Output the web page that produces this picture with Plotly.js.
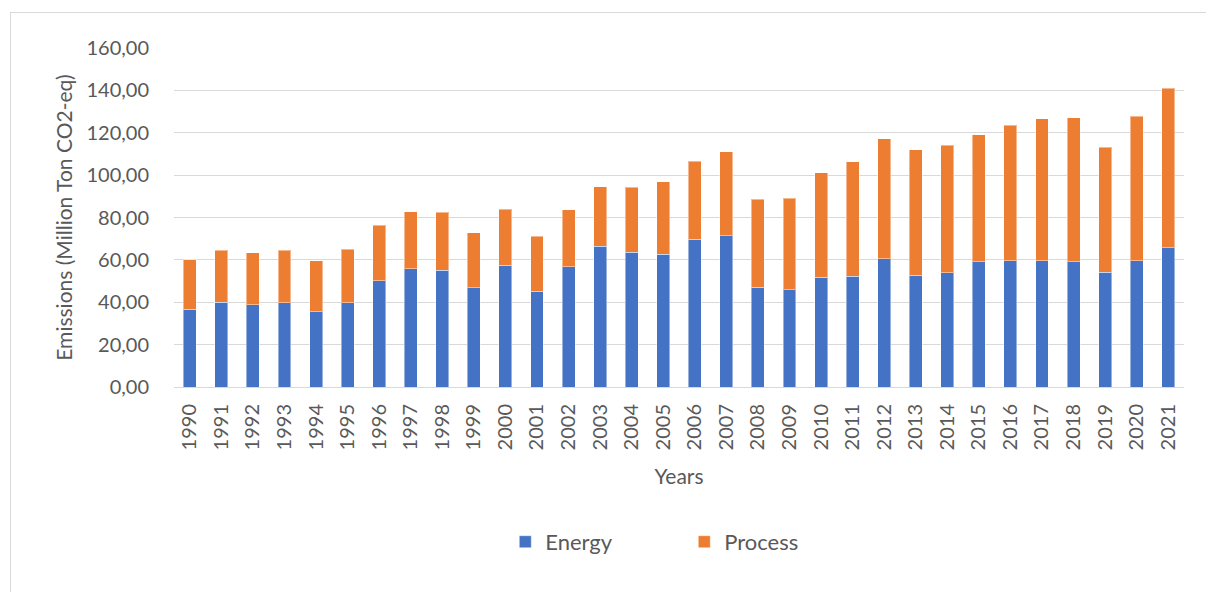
<!DOCTYPE html>
<html>
<head>
<meta charset="utf-8">
<script src="https://cdn.plot.ly/plotly-3.0.1.min.js"></script>
<style>
  html, body { margin: 0; padding: 0; background: #fff; }
  #frame { position: absolute; left: 10px; top: 12px; width: 1220px; height: 600px; border: 1px solid #d9d9d9; box-sizing: border-box; }
  #chart { position: absolute; left: 0; top: 0; width: 1206px; height: 592px; }
</style>
</head>
<body>
<div id="frame"></div>
<div id="chart"></div>
<script>
const years = ["1990","1991","1992","1993","1994","1995","1996","1997","1998","1999","2000",
  "2001","2002","2003","2004","2005","2006","2007","2008","2009","2010","2011",
  "2012","2013","2014","2015","2016","2017","2018","2019","2020","2021"];
const energy = [36.7,40.0,38.9,39.8,35.6,39.8,50.2,55.9,55.1,46.9,57.5,
  45.1,56.8,66.4,63.7,62.6,69.7,71.5,47.0,45.9,51.7,52.2,
  60.6,52.8,54.0,59.2,59.7,59.7,59.2,54.2,59.7,65.8];
const total = [60.0,64.6,63.3,64.6,59.5,65.0,76.4,82.7,82.4,72.8,83.8,
  71.2,83.6,94.5,94.2,96.9,106.6,111.0,88.7,89.0,101.1,106.3,
  117.2,112.0,114.2,119.1,123.6,126.5,127.1,113.2,127.9,141.1];
const processVals = total.map((t, i) => +(t - energy[i]).toFixed(2));

const font = "Lato, 'Open Sans', sans-serif";
const grey = "#595959";

const traces = [
  { type: "bar", name: "Energy", x: years, y: energy,
    marker: { color: "#4472C4", line: { color: "rgba(255,255,255,0.45)", width: 1 } } },
  { type: "bar", name: "Process", x: years, y: processVals,
    marker: { color: "#ED7D31", line: { color: "rgba(255,255,255,0.45)", width: 1 } } }
];

const layout = {
  width: 1206, height: 592,
  paper_bgcolor: "rgba(0,0,0,0)", plot_bgcolor: "rgba(0,0,0,0)",
  margin: { l: 174, r: 22, t: 48, b: 205 },
  barmode: "stack",
  bargap: 0.59,
  font: { family: font, size: 20, color: grey },
  xaxis: {
    type: "category",
    tickangle: -90,
    ticks: "outside", ticklen: 8, tickcolor: "rgba(0,0,0,0)",
    tickfont: { family: font, size: 20, color: grey },
    showgrid: false,
    showline: true, linecolor: "#d9d9d9", linewidth: 1,
    title: { text: "Years", font: { family: font, size: 21, color: grey }, standoff: 19 }
  },
  yaxis: {
    range: [0, 160],
    dtick: 20,
    tickformat: ".2f",
    ticks: "outside", ticklen: 20, tickcolor: "rgba(0,0,0,0)",
    tickfont: { family: font, size: 20, color: grey },
    showgrid: true, gridcolor: "#d9d9d9", gridwidth: 1,
    zeroline: false,
    showline: false,
    title: { text: "Emissions (Million Ton CO2-eq)", font: { family: font, size: 21, color: grey }, standoff: 8 }
  },
  separators: ",.",
  showlegend: true,
  legend: {
    orientation: "h",
    x: 0.328, xanchor: "left",
    y: -0.457, yanchor: "middle",
    entrywidth: 134,
    font: { family: font, size: 22, color: grey },
    traceorder: "normal"
  }
};

Plotly.newPlot("chart", traces, layout, { displayModeBar: false, staticPlot: true });
</script>
</body>
</html>
